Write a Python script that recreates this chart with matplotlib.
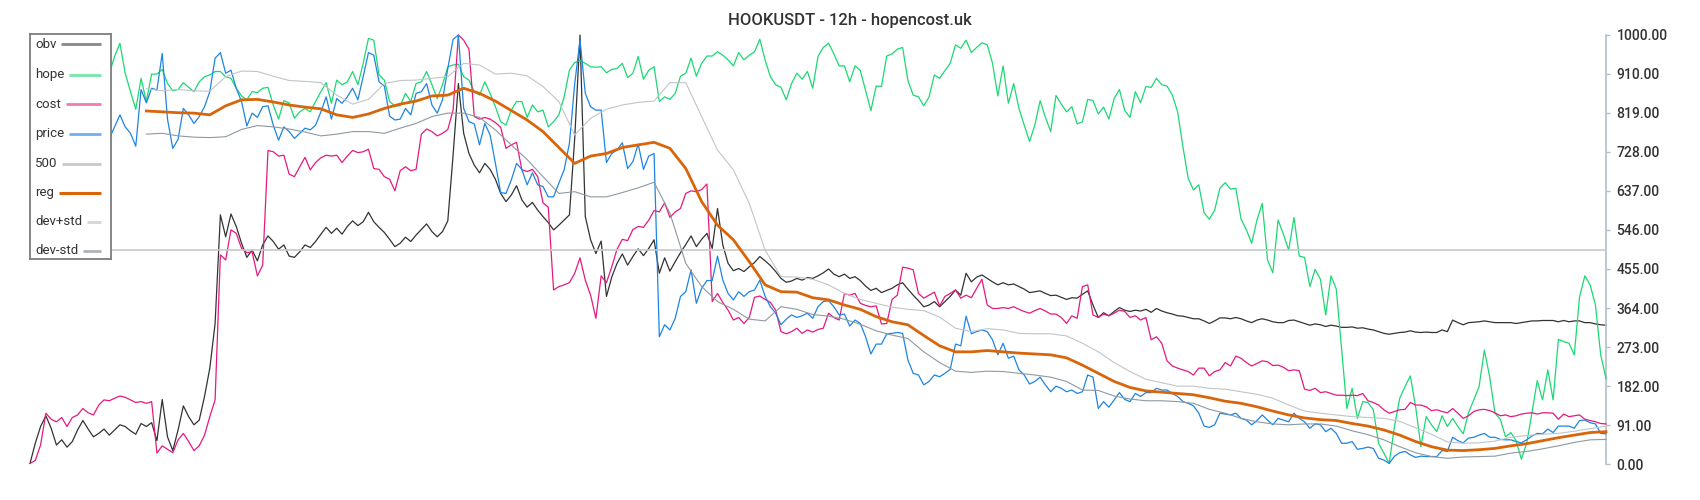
import numpy as np
import matplotlib
matplotlib.use('Agg')
import matplotlib.pyplot as plt

plt.rcParams['font.family'] = ['Roboto', 'DejaVu Sans']

nan = np.nan

# ── values (0..1000 scale, one per 12h candle) ──

obv = [2, 49, 88, 113, 84, 45, 57, 40, 53, 80,
       102, 82, 64, 72, 82, 68, 80, 92, 88, 78,
       70, 95, 88, 97, 55, 151, 64, 32, 80, 136,
       111, 92, 103, 158, 224, 328, 581, 530, 583, 554,
       515, 482, 499, 474, 511, 532, 519, 501, 511, 485,
       482, 495, 511, 505, 519, 536, 552, 538, 550, 536,
       554, 567, 556, 565, 587, 565, 552, 540, 524, 507,
       515, 529, 519, 534, 547, 560, 542, 530, 542, 567,
       720, 887, 771, 724, 697, 679, 701, 687, 664, 631,
       612, 627, 649, 616, 599, 610, 592, 577, 563, 546,
       557, 569, 581, 760, 1000, 577, 523, 491, 520, 391,
       436, 468, 490, 464, 484, 502, 486, 503, 523, 445,
       481, 450, 472, 493, 512, 532, 507, 524, 538, 503,
       596, 511, 468, 451, 456, 449, 460, 470, 484, 474,
       463, 449, 433, 424, 427, 433, 429, 435, 433, 439,
       446, 455, 443, 437, 443, 433, 437, 428, 415, 405,
       410, 400, 405, 410, 418, 423, 408, 394, 381, 367,
       371, 379, 367, 379, 391, 406, 394, 445, 425, 436,
       441, 433, 425, 418, 423, 418, 420, 414, 408, 400,
       402, 404, 398, 393, 394, 389, 384, 388, 387, 396,
       404, 371, 342, 353, 346, 356, 365, 359, 356, 359,
       357, 361, 354, 363, 357, 353, 350, 346, 345, 342,
       339, 339, 334, 328, 334, 341, 341, 339, 342, 339,
       334, 330, 336, 339, 336, 332, 330, 330, 335, 336,
       332, 328, 324, 327, 325, 321, 324, 322, 319,
       319, 320, 317, 318, 315, 313, 309, 305, 303, 305,
       307, 308, 311, 308, 307, 308, 307, 307, 313, 309,
       336, 330, 325, 330, 331, 332, 334, 332, 330, 330,
       330, 330, 328, 330, 332, 334, 334, 335, 335, 335,
       332, 335, 332, 334, 334, 330, 330, 327, 325, 324]

hope = [nan] * 15 + [
       911, 950, 981, 911, 868, 827, 899, 845, 909, 909,
       920, 887, 870, 873, 889, 878, 868, 891, 903, 907,
       915, 915, 903, 899, 876, 858, 849, 868, 866, 876,
       878, 837, 804, 847, 842,
       806, 821, 829, 821, 845, 868, 889, 841, 895, 884,
       891, 915, 884, 934, 992, 988, 907, 895, 845, 835,
       835, 864, 845, 887, 891, 915, 884, 852, 884, 926,
       930, 932, 903, 895, 868, 860, 891, 864, 833, 798,
       790, 825, 845, 845, 808, 837, 821, 825, 786, 798,
       814, 856, 918, 936, 940, 934, 926, 925, 926, 912,
       920, 922, 934, 901, 911, 950, 897, 918, 926, 845,
       856, 850, 864, 904, 911, 946, 904, 934, 951, 951,
       961, 953, 942, 928, 959, 942, 953, 961, 990, 942,
       903, 884, 878, 849, 887, 911, 897, 915, 876, 950,
       971, 981, 956, 928, 928, 891, 928, 917, 870, 824,
       881, 880, 951, 956, 967, 971, 894, 860, 856, 835,
       856, 907, 899, 917, 934, 977, 969, 988, 959, 971,
       982, 977, 934, 858, 928, 841, 887, 829, 790, 752,
       790, 847, 808, 775, 859, 839, 821, 833, 793, 798,
       850, 847, 816, 832, 804, 852, 873, 824, 808, 868,
       842, 880, 878, 899, 884, 881, 860, 821, 740, 666,
       639, 651, 586, 571, 592, 643, 656, 641, 643, 571,
       546, 515, 569, 608, 476, 446, 569, 536, 499, 575,
       485, 482, 414, 454, 431, 348, 439, 408, 270, 130,
       177, 107, 146, 144, 127, 49, 26, 2, 88, 154,
       181, 206, 134, 41, 111, 92, 76, 113, 88, 107,
       88, 71, 120, 150, 181, 266, 204, 119, 105, 64,
       74, 55, 12, 49, 120, 195, 150, 220, 150, 291,
       286, 282, 255, 390, 439, 418, 371, 255, 200]

cost = [2, 9, 45, 119, 105, 99, 109, 88, 109, 115,
        130, 120, 115, 138, 150, 148, 154, 159, 156, 150,
        144, 146, 142, 146, 26, 43, 35, 27, 57, 72,
        53, 32, 43, 68, 111, 150, 488, 476, 546, 538,
        503, 493, 495, 439, 464, 731, 728, 718, 720, 676,
        670, 693, 715, 686, 703, 714, 720, 718, 720, 703,
        718, 731, 726, 728, 734, 689, 687, 670, 664, 637,
        684, 693, 684, 687, 769, 781, 775, 765, 771, 780,
        825, 1000, 988, 967, 810, 804, 808, 804, 796, 785,
        736, 744, 750, 686, 682, 687, 670, 609, 599, 406,
        414, 418, 423, 445, 481, 429, 394, 340, 439, 423,
        460, 501, 524, 521, 547, 554, 552, 569, 591, 588,
        609, 575, 588, 596, 631, 637, 635, 640, 653, 379,
        398, 377, 359, 336, 342, 328, 342, 389, 392, 384,
        377, 359, 309, 304, 309, 317, 305, 313, 308, 314,
        317, 352, 342, 336, 398, 394, 398, 375, 370, 367,
        369, 327, 328, 384, 394, 459, 457, 453, 398, 387,
        394, 401, 369, 391, 398, 406, 387, 394, 388, 410,
        431, 371, 363, 363, 365, 363, 367, 361, 356, 352,
        358, 363, 357, 350, 350, 342, 328, 346, 340, 414,
        418, 348, 342, 350, 346, 352, 359, 356, 342, 346,
        336, 342, 290, 297, 282, 241, 229, 224, 220, 216,
        208, 224, 224, 206, 216, 220, 237, 229, 252, 247,
        237, 229, 235, 241, 239, 230, 231, 226, 218, 220,
        218, 175, 172, 177, 167, 169, 165, 161, 161,
        160, 161, 160, 165, 148, 144, 138, 127, 119, 123,
        127, 128, 144, 138, 138, 134, 125, 127, 123, 120,
        130, 119, 107, 113, 123, 127, 128, 125, 120, 113,
        115, 111, 113, 117, 119, 120, 117, 120, 120, 119,
        105, 117, 111, 113, 115, 105, 102, 99, 95, 94]

price = [nan] * 15 + [
         759, 786, 814, 786, 771, 741, 873, 842, 876, 872,
         957, 804, 736, 757, 829, 814, 794, 810, 833, 868,
         946, 959, 911, 918, 876, 845, 788, 818, 808, 833,
         835, 790, 755, 786, 775,
         759, 771, 783, 779, 790, 821, 856, 804, 852, 841,
         856, 876, 849, 903, 959, 953, 891, 881, 811, 802,
         804, 829, 814, 864, 868, 887, 837, 818, 849, 922,
         990, 1000, 829, 798, 793, 744, 794, 767, 701, 633,
         631, 662, 701, 687, 651, 679, 651, 647, 623, 623,
         655, 686, 748, 887, 988, 864, 833, 825, 825, 703,
         724, 732, 749, 689, 705, 746, 687, 718, 724, 297,
         325, 313, 340, 391, 402, 453, 375, 410, 428, 428,
         485, 429, 398, 383, 402, 391, 402, 406, 429, 391,
         367, 352, 325, 338, 348, 342, 346, 352, 340, 367,
         379, 381, 367, 348, 350, 322, 336, 328, 297, 257,
         280, 280, 304, 305, 307, 305, 243, 212, 208, 185,
         193, 208, 204, 212, 221, 280, 276, 345, 304, 309,
         313, 309, 290, 255, 282, 247, 252, 220, 208, 187,
         193, 203, 185, 169, 182, 177, 169, 173, 165, 169,
         208, 203, 130, 146, 133, 150, 167, 151, 146, 165,
         158, 167, 167, 177, 173, 173, 165, 158, 146, 142,
         136, 119, 89, 86, 92, 119, 117, 115, 119, 107,
         103, 92, 102, 115, 103, 92, 107, 103, 99, 119,
         107, 99, 84, 94, 92, 76, 84, 72, 49,
         49, 53, 35, 37, 40, 37, 14, 10, 2, 19,
         27, 30, 22, 16, 19, 18, 18, 18, 32, 30,
         63, 55, 50, 61, 63, 68, 72, 63, 63, 58,
         57, 57, 53, 50, 57, 66, 72, 71, 82, 74,
         89, 89, 89, 84, 102, 103, 97, 94, 72, 71]

level_500 = [500] * len(obv)

# smoothed series, read every third candle from candle 22 on
smooth_start, smooth_step = 22, 3

reg = [823, 821, 819, 818, 814, 835, 849, 850, 844, 837,
       832, 828, 814, 808, 816, 829, 839, 846, 858, 860, 876, 864, 846, 824, 802, 775,
       738, 701, 718, 724, 738, 744, 750, 736, 689, 612, 557, 523, 472, 418, 402, 401, 388,
       383, 371, 361, 344, 332, 325, 300, 276, 262, 262, 265, 262, 259, 257, 255, 248,
       231, 212, 193, 179, 171, 168, 165, 162, 155, 147, 142, 134, 124, 115, 108, 104, 102,
       95, 89, 80, 68, 53, 41, 33, 32, 34, 37, 43, 48, 55, 62, 68, 74, 76]

dev_hi = [875, 870, 873, 870, 869, 903, 916, 915, 904, 894,
          892, 889, 860, 839, 850, 887, 894, 895, 899, 903, 934, 930, 909, 911, 905, 880,
          845, 767, 806, 827, 837, 843, 846, 889, 889, 810, 732, 686, 608, 499, 437, 436, 431,
          418, 398, 384, 375, 366, 361, 358, 343, 317, 309, 316, 313, 305, 304, 304, 299,
          282, 262, 237, 216, 198, 190, 182, 182, 177, 175, 169, 163, 154, 138, 124, 119, 115,
          111, 109, 107, 100, 85, 70, 52, 49, 50, 54, 63, 67, 70, 72, 77, 83, 89]

dev_lo = [769, 771, 765, 762, 761, 763, 780, 789, 786, 781,
          774, 765, 769, 775, 775, 771, 783, 794, 810, 818, 818, 808, 779, 744, 710, 670,
          631, 635, 623, 623, 633, 644, 657, 585, 468, 414, 379, 361, 338, 334, 367, 361, 349,
          345, 338, 326, 311, 301, 293, 262, 237, 217, 214, 217, 216, 212, 208, 203, 193,
          173, 172, 159, 152, 148, 148, 146, 142, 128, 119, 107, 99, 94, 92, 94, 94, 89,
          78, 69, 57, 41, 27, 18, 14, 17, 18, 19, 26, 30, 36, 43, 51, 57, 58]

y_ticks = [0, 91, 182, 273, 364, 455, 546, 637, 728, 819, 910, 1000]

# ── figure ────────────────────────────────────────────────────

W, H = 1700, 500
fig = plt.figure(figsize=(W / 100, H / 100), dpi=100)
ax = fig.add_axes([30 / W, 1 - 464.3 / H, 1576 / W, 429.3 / H])

t = np.arange(len(obv))
ts = np.arange(smooth_start, smooth_start + smooth_step * len(reg), smooth_step)

# name, x, y, line colour, width, legend colour, legend width
series = [
    ('obv',     t,  obv,       '#333333', 0.9, '#888888', 2.0),
    ('hope',    t,  hope,      '#1bd873', 0.9, '#74e6a8', 2.0),
    ('cost',    t,  cost,      '#e6197e', 0.9, '#ef7ab6', 2.0),
    ('price',   t,  price,     '#1e84e3', 0.9, '#6fb1ee', 2.0),
    ('500',     t,  level_500, '#c8c8c8', 1.2, '#c8c8c8', 2.0),
    ('reg',     ts, reg,       '#d9650b', 2.0, '#d9650b', 2.2),
    ('dev+std', ts, dev_hi,    '#bfc5cb', 0.8, '#d3d7db', 2.0),
    ('dev-std', ts, dev_lo,    '#8e99a2', 0.8, '#abb3ba', 2.0),
]

for i, (name, x, y, col, lw, _, _) in enumerate(series):
    ax.plot(x, y, color=col, lw=lw, zorder=2 + i, clip_on=False)

ax.set_xlim(0, len(obv) - 1)
ax.set_ylim(0, 1000)
ax.set_xticks([])
for side in ('left', 'top', 'bottom'):
    ax.spines[side].set_visible(False)
ax.spines['right'].set_color('#b3bec6')
ax.spines['right'].set_linewidth(1.2)
ax.yaxis.tick_right()
ax.set_yticks(y_ticks)
ax.set_yticklabels([f'{v:.2f}' for v in y_ticks], fontweight='medium')
ax.tick_params(axis='y', length=3, width=1, color='#b3bec6',
               labelcolor='#333333', labelsize=10, pad=4.5)

fig.text(0.5, 1 - 20 / H, 'HOOKUSDT - 12h - hopencost.uk',
         ha='center', va='center', fontsize=12, fontweight='medium',
         color='#333333')

# ── legend: label left, line filling to the right edge ────────

lw_px, lh_px = 80.7, 224.7
lax = fig.add_axes([30 / W, 1 - 259 / H, lw_px / W, lh_px / H])
lax.set_xlim(0, lw_px)
lax.set_ylim(lh_px, 0)
lax.set_xticks([])
lax.set_yticks([])
lax.set_facecolor('white')
for s in lax.spines.values():
    s.set_color('#7d7d7d')
    s.set_linewidth(1.3)

rows = [10, 40.6, 69.8, 99.6, 129.2, 158.4, 187.6, 216.5]
fig.canvas.draw()
renderer = fig.canvas.get_renderer()
inv = lax.transData.inverted()
for (name, _, _, _, _, hcol, hlw), y in zip(series, rows):
    txt = lax.text(5, y, name, ha='left', va='center', fontsize=9.5, color='#333333')
    bb = txt.get_window_extent(renderer)
    x_end = inv.transform((bb.x1, bb.y0))[0]
    lax.plot([x_end + 5, lw_px - 10], [y, y], color=hcol, lw=hlw,
             solid_capstyle='butt')

fig.savefig('out.png', dpi=100)
